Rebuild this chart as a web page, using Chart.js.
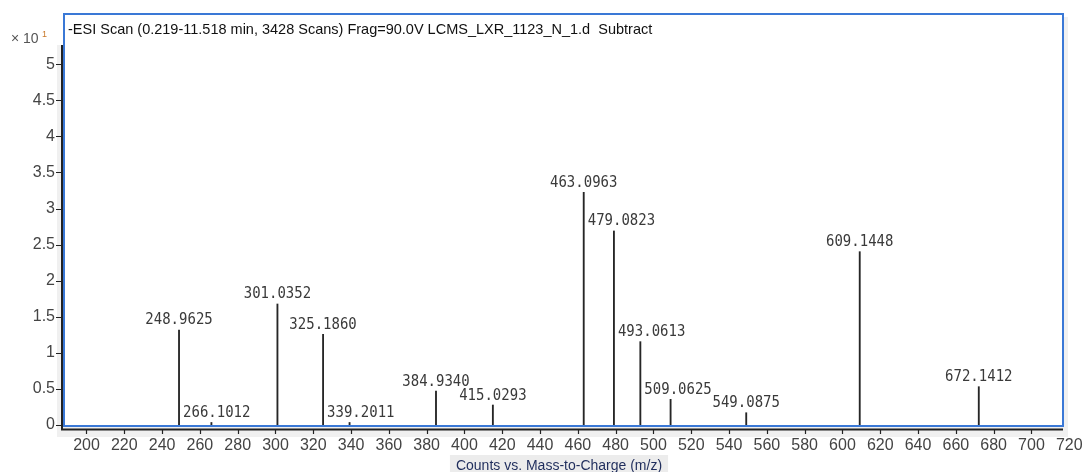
<!DOCTYPE html>
<html>
<head>
<meta charset="utf-8">
<script src="https://cdn.jsdelivr.net/npm/chart.js@4/dist/chart.umd.min.js"></script>
<style>
  html, body { margin: 0; padding: 0; background: #ffffff; }
  #wrap { width: 1085px; height: 472px; }
</style>
</head>
<body>
<div id="wrap"><canvas id="ms" width="1085" height="472"></canvas></div>
<script>
// Centroided peaks of the subtracted negative-ion scan (m/z, counts ×10^1)
const peakMz = [248.9625, 266.1012, 301.0352, 325.1860, 339.2011, 384.9340, 415.0293,
                463.0963, 479.0823, 493.0613, 509.0625, 549.0875, 609.1448, 672.1412];
const peakCounts = [1.317, 0.035, 1.677, 1.257, 0.035, 0.471, 0.277,
                    3.225, 2.689, 1.155, 0.356, 0.170, 2.402, 0.531];

// Axis tick values
const xTicks = [200, 220, 240, 260, 280, 300, 320, 340, 360, 380, 400, 420, 440, 460, 480,
                500, 520, 540, 560, 580, 600, 620, 640, 660, 680, 700, 720];
const yTicks = [0, 0.5, 1, 1.5, 2, 2.5, 3, 3.5, 4, 4.5, 5];

const scanTitle = '-ESI Scan (0.219-11.518 min, 3428 Scans) Frag=90.0V LCMS_LXR_1123_N_1.d  Subtract';
const xAxisTitle = 'Counts vs. Mass-to-Charge (m/z)';

const AXIS_DARK = '#222222';
const FRAME_BLUE = '#3a78d6';

const spectrumDecor = {
  id: 'spectrumDecor',
  beforeDraw(chart) {
    const ctx = chart.ctx;
    const a = chart.chartArea;
    ctx.save();
    ctx.fillStyle = '#ffffff';
    ctx.fillRect(0, 0, chart.width, chart.height);
    // light panel strips round the plot frame
    ctx.fillStyle = '#f0f0f0';
    ctx.fillRect(57, 45, 6, a.bottom + 12 - 45);
    ctx.fillRect(57, a.bottom, a.right + 5 - 57, 12);
    ctx.fillRect(a.right, a.top + 4, 5, a.bottom + 12 - a.top - 4);
    ctx.fillStyle = '#ffffff';
    ctx.fillRect(a.left, a.top, a.right - a.left, a.bottom - a.top);
    ctx.restore();
  },
  afterDatasetsDraw(chart) {
    const ctx = chart.ctx;
    const a = chart.chartArea;
    const xs = chart.scales.x;
    const ys = chart.scales.y;
    ctx.save();

    // plot frame
    ctx.strokeStyle = FRAME_BLUE;
    ctx.lineWidth = 2;
    ctx.strokeRect(a.left, a.top + 1, a.right - a.left, a.bottom + 1 - a.top - 1);

    // dark axis lines with outward tick marks
    ctx.strokeStyle = AXIS_DARK;
    ctx.lineWidth = 2;
    ctx.beginPath();
    ctx.moveTo(62, 45);
    ctx.lineTo(62, a.bottom + 5);
    ctx.moveTo(61, a.bottom + 4.5);
    ctx.lineTo(a.right, a.bottom + 4.5);
    ctx.stroke();
    ctx.lineWidth = 1.2;
    ctx.beginPath();
    yTicks.forEach(v => {
      const py = Math.round(ys.getPixelForValue(v)) + 0.5;
      ctx.moveTo(56, py);
      ctx.lineTo(62, py);
    });
    xTicks.forEach(v => {
      const px = Math.round(xs.getPixelForValue(v)) + 0.5;
      if (px > a.right) return;
      ctx.moveTo(px, a.bottom + 5);
      ctx.lineTo(px, a.bottom + 9);
    });
    ctx.stroke();

    // peak labels, nudged right when a taller neighbouring stick runs through them
    ctx.font = '14px "DejaVu Sans Mono"';
    ctx.fillStyle = '#3a3a3a';
    ctx.textBaseline = 'alphabetic';
    const boxes = [];
    peakMz.forEach((mz, i) => {
      const text = mz.toFixed(4);
      const w = ctx.measureText(text).width;
      const px = xs.getPixelForValue(mz);
      const top = ys.getPixelForValue(peakCounts[i]);
      const bottom = top - 5.5;
      let left = px - w / 2;
      peakMz.forEach((other, j) => {
        if (j === i) return;
        const ox = xs.getPixelForValue(other);
        const otop = ys.getPixelForValue(peakCounts[j]);
        if (otop < bottom && ox >= left - 2 && ox <= left + w && ox < px) {
          left = ox + 4;
        }
      });
      boxes.push({ text, left, bottom });
    });
    boxes.forEach(b => {
      ctx.save();
      ctx.translate(b.left, b.bottom);
      ctx.scale(1, 1.12);
      ctx.fillText(b.text, 0, 0);
      ctx.restore();
    });

    // scan description
    ctx.font = '14.5px "Liberation Sans"';
    ctx.fillStyle = '#111111';
    ctx.textBaseline = 'middle';
    ctx.textAlign = 'left';
    ctx.fillText(scanTitle, a.left + 4, 30);

    // intensity multiplier
    ctx.font = '14px "Liberation Sans"';
    ctx.fillStyle = '#555555';
    ctx.fillText('\u00d7 10', 11, 39);
    ctx.font = '9px "Liberation Sans"';
    ctx.fillStyle = '#c8782a';
    ctx.fillText('1', 42, 35);

    // x axis title on its light plate
    ctx.font = '14px "Liberation Sans"';
    const tw = ctx.measureText(xAxisTitle).width;
    const cx = 559;
    ctx.fillStyle = '#ececec';
    ctx.fillRect(cx - tw / 2 - 6, 455, tw + 12, 17);
    ctx.fillStyle = '#1f2d5c';
    ctx.textAlign = 'center';
    ctx.fillText(xAxisTitle, cx, 466);
    ctx.restore();
  }
};

new Chart(document.getElementById('ms'), {
  type: 'bar',
  data: {
    datasets: [{
      label: 'Counts',
      data: peakMz.map((mz, i) => ({ x: mz, y: peakCounts[i] })),
      backgroundColor: '#262626',
      borderWidth: 0,
      barThickness: 1.2,
      grouped: false
    }]
  },
  options: {
    responsive: false,
    animation: false,
    devicePixelRatio: 1,
    layout: { padding: { top: 13, right: 22, left: 0, bottom: 0 } },
    plugins: {
      legend: { display: false },
      tooltip: { enabled: false },
      title: { display: false }
    },
    scales: {
      x: {
        type: 'linear',
        offset: false,
        min: 188.1,
        max: 716.7,
        afterFit(s) { s.height = 47; s.paddingLeft = 0; s.paddingRight = 0; },
        afterBuildTicks(s) { s.ticks = xTicks.map(v => ({ value: v })); },
        grid: { display: false, drawTicks: false },
        border: { display: false },
        ticks: {
          autoSkip: false,
          maxRotation: 0,
          padding: 11,
          color: '#444444',
          font: { family: 'Liberation Sans', size: 16 },
          callback: v => String(v)
        }
      },
      y: {
        min: 0,
        max: 5.71,
        afterFit(s) { s.width = 64; s.paddingTop = 0; s.paddingBottom = 0; },
        afterBuildTicks(s) { s.ticks = yTicks.map(v => ({ value: v })); },
        grid: { display: false, drawTicks: false },
        border: { display: false },
        ticks: {
          padding: 9,
          color: '#444444',
          font: { family: 'Liberation Sans', size: 16 },
          callback: v => String(v)
        }
      }
    }
  },
  plugins: [spectrumDecor]
});
</script>
</body>
</html>
